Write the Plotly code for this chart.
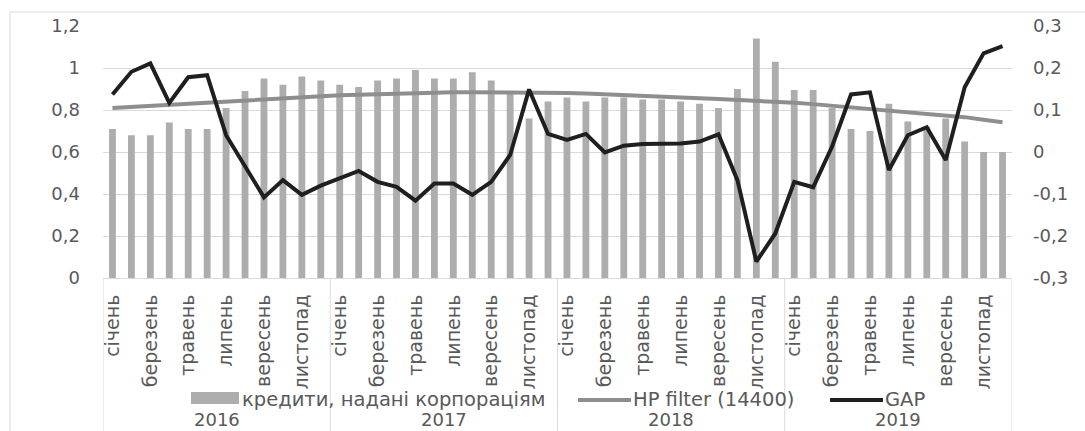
import plotly.graph_objects as go

# Monthly data, 2016–2019
years = ["2016", "2017", "2018", "2019"]
months = ["січень", "лютий", "березень", "квітень", "травень", "червень",
          "липень", "серпень", "вересень", "жовтень", "листопад", "грудень"]

loans = [0.71, 0.68, 0.68, 0.74, 0.71, 0.71, 0.81, 0.89, 0.95, 0.92, 0.96, 0.94,
         0.92, 0.91, 0.94, 0.95, 0.99, 0.95, 0.95, 0.98, 0.94, 0.88, 0.76, 0.84,
         0.86, 0.84, 0.86, 0.86, 0.85, 0.85, 0.84, 0.83, 0.81, 0.90, 1.14, 1.03,
         0.895, 0.895, 0.81, 0.71, 0.70, 0.83, 0.745, 0.72, 0.76, 0.65, 0.60, 0.60]

hp_trend = [0.810, 0.815, 0.820, 0.825, 0.830, 0.835, 0.840, 0.845, 0.850, 0.857, 0.863, 0.867,
            0.870, 0.873, 0.876, 0.879, 0.881, 0.883, 0.884, 0.885, 0.885, 0.885, 0.884, 0.883,
            0.881, 0.878, 0.875, 0.872, 0.868, 0.864, 0.860, 0.856, 0.852, 0.848, 0.845, 0.842,
            0.835, 0.828, 0.820, 0.812, 0.805, 0.797, 0.790, 0.784, 0.776, 0.766, 0.754, 0.742]

gap = [0.137, 0.191, 0.211, 0.117, 0.178, 0.183, 0.040, -0.035, -0.108, -0.067, -0.102, -0.080,
       -0.063, -0.045, -0.071, -0.083, -0.116, -0.075, -0.075, -0.102, -0.071, -0.007, 0.149, 0.043,
       0.029, 0.043, -0.001, 0.015, 0.019, 0.019, 0.020, 0.025, 0.042, -0.067, -0.261, -0.194,
       -0.071, -0.084, 0.013, 0.137, 0.142, -0.043, 0.040, 0.059, -0.019, 0.154, 0.235, 0.252]

series_names = ["кредити, надані корпораціям", "HP filter (14400)", "GAP"]

left_ticks = [0, 0.2, 0.4, 0.6, 0.8, 1.0, 1.2]
left_labels = ["0", "0,2", "0,4", "0,6", "0,8", "1", "1,2"]
right_ticks = [-0.3, -0.2, -0.1, 0, 0.1, 0.2, 0.3]
right_labels = ["-0,3", "-0,2", "-0,1", "0", "0,1", "0,2", "0,3"]

n = len(years) * len(months)
x = list(range(n))
month_tickvals = [i for i in x if i % 2 == 0]
month_ticktext = [months[i % 12] for i in month_tickvals]

TEXT = "#595959"
GRID = "#d9d9d9"
BAR = "#adadad"
HP = "#8e8e8e"
GAPC = "#1f1f1f"
FONT = "DejaVu Sans"
FS = 18

# plot area in pixels
W, H = 1085, 431
L, R, T, B = 103, 1012, 26, 278
pw, ph = R - L, B - T


def py(p):
    """pixel row -> paper y"""
    return (B - p) / ph


def px(p):
    """pixel column -> paper x"""
    return (p - L) / pw


fig = go.Figure()
fig.add_trace(go.Bar(x=x, y=loans, name=series_names[0],
                     marker=dict(color=BAR, line=dict(width=0)), yaxis="y"))
fig.add_trace(go.Scatter(x=x, y=hp_trend, name=series_names[1], mode="lines",
                         line=dict(color=HP, width=4), yaxis="y"))
fig.add_trace(go.Scatter(x=x, y=gap, name=series_names[2], mode="lines",
                         line=dict(color=GAPC, width=4), yaxis="y2"))

shapes = []
# year dividers on the category axis
for k in range(len(years) + 1):
    shapes.append(dict(type="line", xref="x", yref="paper",
                       x0=k * 12 - 0.5, x1=k * 12 - 0.5, y0=0, y1=py(440),
                       line=dict(color=GRID, width=1)))
# chart border
shapes.append(dict(type="rect", xref="paper", yref="paper",
                   x0=px(10), x1=px(1095), y0=py(445), y1=py(12),
                   line=dict(color=GRID, width=1), fillcolor="rgba(0,0,0,0)", layer="below"))

annotations = []
for k, yr in enumerate(years):
    annotations.append(dict(x=k * 12 + 5.5, y=py(419), xref="x", yref="paper",
                            text=yr, showarrow=False,
                            font=dict(family=FONT, size=FS, color=TEXT),
                            xanchor="center", yanchor="middle"))

# legend row: swatch / line keys followed by series names
leg_y = 399
shapes.append(dict(type="rect", xref="paper", yref="paper",
                   x0=px(191), x1=px(239), y0=py(404), y1=py(392),
                   line=dict(width=0), fillcolor=BAR))
shapes.append(dict(type="line", xref="paper", yref="paper",
                   x0=px(578), x1=px(631), y0=py(leg_y + 1), y1=py(leg_y + 1),
                   line=dict(color=HP, width=4)))
shapes.append(dict(type="line", xref="paper", yref="paper",
                   x0=px(830), x1=px(883), y0=py(leg_y + 1), y1=py(leg_y + 1),
                   line=dict(color=GAPC, width=4)))
for name, left in zip(series_names, [242, 633, 885]):
    annotations.append(dict(x=px(left), y=py(leg_y), xref="paper", yref="paper",
                            text=name, showarrow=False,
                            font=dict(family=FONT, size=19.5, color=TEXT),
                            xanchor="left", yanchor="middle", xshift=-2))

fig.update_layout(
    width=W, height=H,
    margin=dict(l=L, r=W - R, t=T, b=H - B),
    paper_bgcolor="white", plot_bgcolor="white",
    bargap=0.64,
    font=dict(family=FONT, size=FS, color=TEXT),
    showlegend=False,
    xaxis=dict(range=[-0.5, n - 0.5], tickmode="array", tickvals=month_tickvals,
               ticktext=month_ticktext, tickangle=-90, ticks="", showgrid=False,
               zeroline=False, showline=True, linecolor=GRID, linewidth=1,
               ticklabelstandoff=8, tickfont=dict(family=FONT, size=19, color=TEXT)),
    yaxis=dict(range=[0, 1.2], tickmode="array", tickvals=left_ticks, ticktext=left_labels,
               showgrid=True, gridcolor=GRID, gridwidth=1, zeroline=False, showline=False,
               ticks="", ticklabelstandoff=22, tickfont=dict(family=FONT, size=FS, color=TEXT)),
    yaxis2=dict(range=[-0.3, 0.3], overlaying="y", side="right", tickmode="array",
                tickvals=right_ticks, ticktext=right_labels, showgrid=False, zeroline=False,
                showline=False, ticks="", ticklabelstandoff=20,
                tickfont=dict(family=FONT, size=FS, color=TEXT)),
    shapes=shapes,
    annotations=annotations,
)

fig.write_html("out.html")
